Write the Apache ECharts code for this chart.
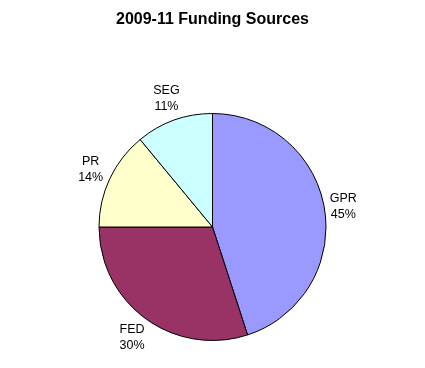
<!DOCTYPE html>
<html><head><meta charset="utf-8">
<script src="https://cdn.jsdelivr.net/npm/echarts@6/dist/echarts.min.js"></script>
<style>html,body{margin:0;padding:0;background:#fff}#c{width:425px;height:368px}</style>
</head><body><div id="c"></div>
<script>
const categories = ['GPR', 'FED', 'PR', 'SEG'];
const values = [45, 30, 14, 11];
const colors = ['#9999FF', '#993366', '#FFFFCC', '#CCFFFF'];
const titleText = '2009-11 Funding Sources';

const CX = 212.5, CY = 227, R = 113.5, GAP = 3;
const total = values.reduce((a, b) => a + b, 0);

const chart = echarts.init(document.getElementById('c'), null, {renderer: 'canvas'});
chart.setOption({
  animation: false,
  backgroundColor: '#ffffff',
  title: {
    text: titleText,
    left: 'center',
    top: 7,
    textStyle: {fontFamily: 'Liberation Sans', fontWeight: 'bold', fontSize: 16, color: '#000'}
  },
  series: [{
    type: 'pie',
    center: [CX, CY],
    radius: [0, R],
    startAngle: 90,
    clockwise: true,
    avoidLabelOverlap: false,
    data: categories.map((c, i) => ({name: c, value: values[i], itemStyle: {color: colors[i]}})),
    itemStyle: {borderColor: '#000', borderWidth: 1},
    label: {
      show: true,
      position: 'outside',
      formatter: p => p.name + '\n' + p.value + '%',
      fontFamily: 'Liberation Sans',
      fontSize: 12.5,
      lineHeight: 16,
      color: '#000'
    },
    labelLine: {show: false},
    labelLayout: function (p) {
      const i = p.dataIndex;
      let cum = 0;
      for (let k = 0; k < i; k++) cum += values[k];
      const a = (cum + values[i] / 2) / total * 2 * Math.PI;
      const s = Math.sin(a), c = Math.cos(a);
      const hw = p.labelRect.width / 2, hh = p.labelRect.height / 2;
      const d = R + GAP + Math.abs(hw * s) + Math.abs(hh * c);
      return {x: CX + d * s, y: CY - d * c, align: 'center', verticalAlign: 'middle'};
    },
    emphasis: {disabled: true}
  }]
});
</script></body></html>
